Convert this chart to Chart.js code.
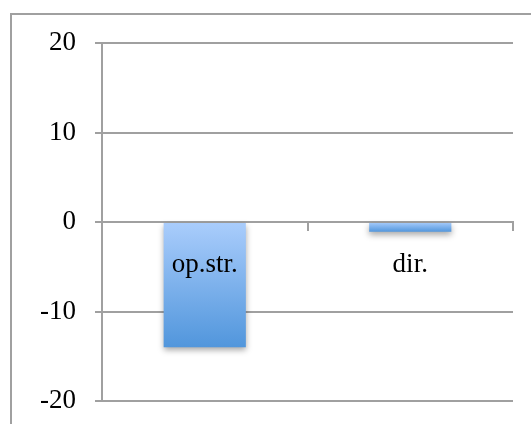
<!DOCTYPE html>
<html>
<head>
<meta charset="utf-8">
<script src="https://cdn.jsdelivr.net/npm/chart.js@4"></script>
<style>
  body { margin: 0; background: #fff; }
  #wrap { width: 531px; height: 424px; position: relative; }
</style>
</head>
<body>
<div id="wrap"><canvas id="barChart"></canvas></div>
<script>
const categories = ['op.str.', 'dir.'];
const values = [-14, -1.1];
const yMin = -20;
const yMax = 20;
const yStep = 10;

const gridGrey = '#a0a0a0';
const font = { family: 'Liberation Serif', size: 27 };

// frame around the whole chart (runs off the right and bottom edges)
const framePlugin = {
    id: 'frame',
    beforeDraw(chart) {
        const c = chart.ctx;
        c.save();
        c.strokeStyle = gridGrey;
        c.lineWidth = 2;
        c.strokeRect(11, 14, 700, 700);
        c.restore();
    }
};

// soft drop shadow under the bars
const shadowPlugin = {
    id: 'barShadow',
    beforeDatasetDraw(chart) {
        const c = chart.ctx;
        c.save();
        c.shadowColor = 'rgba(0,0,0,0.35)';
        c.shadowBlur = 6;
        c.shadowOffsetX = 0;
        c.shadowOffsetY = 3;
    },
    afterDatasetDraw(chart) {
        chart.ctx.restore();
    }
};

function barGradient(context) {
    const chart = context.chart;
    const y = chart.scales.y;
    if (!y || context.parsed === undefined) return '#6fa6e6';
    const top = y.getPixelForValue(0);
    const bottom = y.getPixelForValue(context.parsed.y);
    if (!isFinite(top) || !isFinite(bottom) || top === bottom) return '#6fa6e6';
    const g = chart.ctx.createLinearGradient(0, top, 0, bottom);
    g.addColorStop(0, '#aacdfc');
    g.addColorStop(1, '#5196dc');
    return g;
}

var ctx = document.getElementById('barChart').getContext('2d');

var barChart = new Chart(ctx, { //eslint-disable-line
    type: 'bar',
    data: {
        labels: categories,
        datasets: [
            {
                data: values,
                backgroundColor: barGradient,
                borderWidth: 0,
                barPercentage: 0.8,
                categoryPercentage: 0.5
            }
        ]
    },
    options: {
        responsive: true,
        maintainAspectRatio: false,
        animation: false,
        layout: {
            padding: { left: 0, top: 43, right: 18, bottom: 23 }
        },
        plugins: {
            legend: { display: false },
            tooltip: { enabled: false }
        },
        scales: {
            x: {
                position: { y: 0 },
                offset: true,
                afterFit(scale) {
                    scale.paddingTop = 0;
                    scale.paddingBottom = 0;
                    scale.paddingLeft = 0;
                    scale.paddingRight = 0;
                },
                grid: {
                    offset: true,
                    drawOnChartArea: false,
                    drawTicks: true,
                    tickLength: 8,
                    color: gridGrey,
                    lineWidth: 2
                },
                border: { display: true, color: gridGrey, width: 2 },
                ticks: {
                    z: 1,
                    autoSkip: false,
                    maxRotation: 0,
                    font: font,
                    color: '#000',
                    padding: 19
                }
            },
            y: {
                min: yMin,
                max: yMax,
                afterFit(scale) {
                    scale.width = 102;
                    scale.paddingTop = 0;
                    scale.paddingBottom = 0;
                },
                grid: {
                    color: gridGrey,
                    lineWidth: 2,
                    drawTicks: true,
                    tickLength: 7
                },
                border: { display: true, color: gridGrey, width: 2 },
                ticks: {
                    stepSize: yStep,
                    font: font,
                    color: '#000',
                    padding: 19
                }
            }
        }
    },
    plugins: [framePlugin, shadowPlugin]
});
</script>
</body>
</html>
